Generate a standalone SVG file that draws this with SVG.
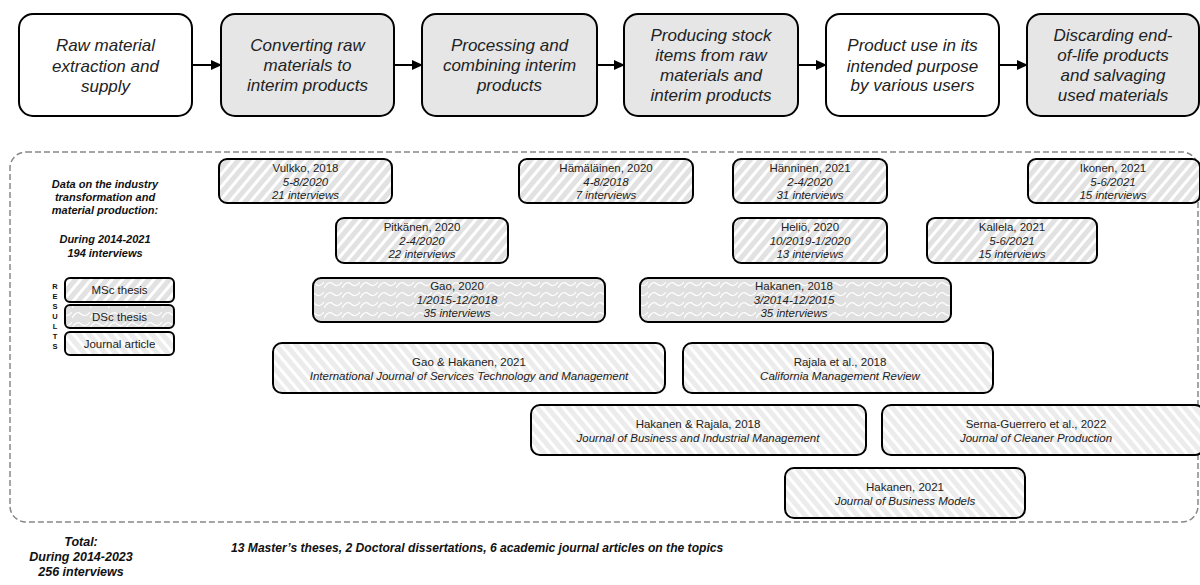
<svg xmlns="http://www.w3.org/2000/svg" width="1200" height="585" viewBox="0 0 1200 585">
<style>
.stage{stroke:#000;stroke-width:2}
.st{font-family:"Liberation Sans",Arial,sans-serif;font-style:italic;font-size:17px;fill:#222;text-anchor:middle}
.db{stroke:#000;stroke-width:2}
.t{font-family:"Liberation Sans",Arial,sans-serif;font-size:11.5px;fill:#222;text-anchor:middle}
.i{font-style:italic}
.bi{font-family:"Liberation Sans",Arial,sans-serif;font-weight:bold;font-style:italic;fill:#111;text-anchor:middle}
.res{font-family:"Liberation Sans",Arial,sans-serif;font-weight:bold;font-size:7.5px;fill:#111;text-anchor:middle}
.conn{stroke:#000;stroke-width:2;fill:none}
</style>
<defs>
<marker id="ah" markerUnits="userSpaceOnUse" markerWidth="11" markerHeight="10" refX="10" refY="5" orient="auto">
<path d="M0,0 L11,5 L0,10 z" fill="#000"/>
</marker>
<pattern id="msc" patternUnits="userSpaceOnUse" width="8" height="8" patternTransform="rotate(40)">
<rect width="8" height="8" fill="#e2e2e2"/>
<rect width="3" height="8" fill="#ffffff"/>
</pattern>
<pattern id="jrn" patternUnits="userSpaceOnUse" width="8" height="8" patternTransform="rotate(-40)">
<rect width="8" height="8" fill="#ececec"/>
<rect width="3" height="8" fill="#ffffff"/>
</pattern>
<pattern id="dsc" patternUnits="userSpaceOnUse" width="18" height="10">
<rect width="18" height="10" fill="#e0e0e0"/>
<path d="M0,8 Q4.5,0 9,4 T18,2 M0,-2 Q4.5,-10 9,-6 T18,-8 M0,18 Q4.5,10 9,14 T18,12" stroke="#fff" stroke-width="1.2" fill="none"/>
</pattern>
</defs>

<g id="stage1"><rect class="stage" x="19" y="14" width="173" height="102" rx="14" fill="#fff"/>
<text class="st" x="105.5" y="51">Raw material</text><text class="st" x="105.5" y="72">extraction and</text><text class="st" x="105.5" y="92">supply</text></g>
<g id="stage2"><rect class="stage" x="221" y="14" width="173" height="102" rx="14" fill="#e6e6e6"/>
<text class="st" x="307.5" y="51">Converting raw</text><text class="st" x="307.5" y="71">materials to</text><text class="st" x="307.5" y="91">interim products</text></g>
<g id="stage3"><rect class="stage" x="422" y="14" width="175" height="102" rx="14" fill="#e6e6e6"/>
<text class="st" x="509.5" y="51">Processing and</text><text class="st" x="509.5" y="71">combining interim</text><text class="st" x="509.5" y="91">products</text></g>
<g id="stage4"><rect class="stage" x="624" y="14" width="174" height="102" rx="14" fill="#e6e6e6"/>
<text class="st" x="711" y="41">Producing stock</text><text class="st" x="711" y="61">items from raw</text><text class="st" x="711" y="81">materials and</text><text class="st" x="711" y="101">interim products</text></g>
<g id="stage5"><rect class="stage" x="826" y="14" width="173" height="102" rx="14" fill="#fff"/>
<text class="st" x="912.5" y="51">Product use in its</text><text class="st" x="912.5" y="72">intended purpose</text><text class="st" x="912.5" y="91">by various users</text></g>
<g id="stage6"><rect class="stage" x="1027" y="14" width="172" height="102" rx="14" fill="#e6e6e6"/>
<text class="st" x="1113" y="41">Discarding end-</text><text class="st" x="1113" y="61">of-life products</text><text class="st" x="1113" y="81">and salvaging</text><text class="st" x="1113" y="101">used materials</text></g>

<g id="connectors">
<line class="conn" x1="192" y1="65" x2="221" y2="65" marker-end="url(#ah)"/>
<line class="conn" x1="394" y1="65" x2="422" y2="65" marker-end="url(#ah)"/>
<line class="conn" x1="597" y1="65" x2="624" y2="65" marker-end="url(#ah)"/>
<line class="conn" x1="798" y1="65" x2="826" y2="65" marker-end="url(#ah)"/>
<line class="conn" x1="999" y1="65" x2="1027" y2="65" marker-end="url(#ah)"/>
</g>

<g id="frame"><rect x="10" y="152" width="1188" height="370" rx="16" fill="none" stroke="#888" stroke-width="1.5" stroke-dasharray="6 3"/></g>

<g id="left-info">
<text class="bi" font-size="11" x="105" y="188">Data on the industry</text>
<text class="bi" font-size="11" x="105" y="201">transformation and</text>
<text class="bi" font-size="11" x="105" y="214">material production:</text>
<text class="bi" font-size="11" x="105" y="243">During 2014-2021</text>
<text class="bi" font-size="11" x="105" y="257">194 interviews</text>
</g>

<g id="legend">
<text class="res" x="55" y="289">R</text><text class="res" x="55" y="299">E</text><text class="res" x="55" y="309">S</text><text class="res" x="55" y="319">U</text><text class="res" x="55" y="329">L</text><text class="res" x="55" y="339">T</text><text class="res" x="55" y="349">S</text>
<g id="leg-msc"><rect class="db" x="65" y="278" width="109" height="24" rx="5" fill="url(#msc)"/><text class="t" x="119.5" y="294">MSc thesis</text></g>
<g id="leg-dsc"><rect class="db" x="65" y="305" width="109" height="23" rx="5" fill="url(#dsc)"/><text class="t" x="119.5" y="321">DSc thesis</text></g>
<g id="leg-jrn"><rect class="db" x="65" y="332" width="109" height="23" rx="5" fill="url(#jrn)"/><text class="t" x="119.5" y="348">Journal article</text></g>
</g>

<g id="vulkko"><rect class="db" x="219" y="159" width="173" height="44" rx="8" fill="url(#msc)"/>
<text class="t" x="305.5" y="172">Vulkko, 2018</text><text class="t i" x="305.5" y="186">5-8/2020</text><text class="t i" x="305.5" y="199">21 interviews</text></g>
<g id="hamalainen"><rect class="db" x="519" y="159" width="174" height="44" rx="8" fill="url(#msc)"/>
<text class="t" x="606" y="172">Hämäläinen, 2020</text><text class="t i" x="606" y="186">4-8/2018</text><text class="t i" x="606" y="199">7 interviews</text></g>
<g id="hanninen"><rect class="db" x="733" y="159" width="154" height="44" rx="8" fill="url(#msc)"/>
<text class="t" x="810" y="172">Hänninen, 2021</text><text class="t i" x="810" y="186">2-4/2020</text><text class="t i" x="810" y="199">31 interviews</text></g>
<g id="ikonen"><rect class="db" x="1028" y="159" width="172" height="44" rx="8" fill="url(#msc)"/>
<text class="t" x="1113" y="172">Ikonen, 2021</text><text class="t i" x="1113" y="186">5-6/2021</text><text class="t i" x="1113" y="199">15 interviews</text></g>
<g id="pitkanen"><rect class="db" x="336" y="218" width="172" height="45" rx="8" fill="url(#msc)"/>
<text class="t" x="422" y="231">Pitkänen, 2020</text><text class="t i" x="422" y="245">2-4/2020</text><text class="t i" x="422" y="258">22 interviews</text></g>
<g id="helio"><rect class="db" x="733" y="218" width="154" height="45" rx="8" fill="url(#msc)"/>
<text class="t" x="810" y="231">Heliö, 2020</text><text class="t i" x="810" y="245">10/2019-1/2020</text><text class="t i" x="810" y="258">13 interviews</text></g>
<g id="kallela"><rect class="db" x="927" y="218" width="170" height="45" rx="8" fill="url(#msc)"/>
<text class="t" x="1012" y="231">Kallela, 2021</text><text class="t i" x="1012" y="245">5-6/2021</text><text class="t i" x="1012" y="258">15 interviews</text></g>
<g id="gao2020"><rect class="db" x="313" y="278" width="292" height="44" rx="8" fill="url(#dsc)"/>
<text class="t" x="457" y="290">Gao, 2020</text><text class="t i" x="457" y="304">1/2015-12/2018</text><text class="t i" x="457" y="317">35 interviews</text></g>
<g id="hakanen2018"><rect class="db" x="640" y="278" width="311" height="44" rx="8" fill="url(#dsc)"/>
<text class="t" x="794" y="290">Hakanen, 2018</text><text class="t i" x="794" y="304">3/2014-12/2015</text><text class="t i" x="794" y="317">35 interviews</text></g>
<g id="gaohakanen"><rect class="db" x="273" y="343" width="392" height="50" rx="9" fill="url(#jrn)"/>
<text class="t" x="469" y="366">Gao &amp; Hakanen, 2021</text><text class="t i" x="469" y="380">International Journal of Services Technology and Management</text></g>
<g id="rajala"><rect class="db" x="683" y="343" width="310" height="50" rx="9" fill="url(#jrn)"/>
<text class="t" x="840" y="366">Rajala et al., 2018</text><text class="t i" x="840" y="380">California Management Review</text></g>
<g id="hakanenrajala"><rect class="db" x="531" y="405" width="335" height="50" rx="9" fill="url(#jrn)"/>
<text class="t" x="698" y="428">Hakanen &amp; Rajala, 2018</text><text class="t i" x="698" y="442">Journal of Business and Industrial Management</text></g>
<g id="serna"><rect class="db" x="882" y="405" width="322" height="50" rx="9" fill="url(#jrn)"/>
<text class="t" x="1036" y="428">Serna-Guerrero et al., 2022</text><text class="t i" x="1036" y="442">Journal of Cleaner Production</text></g>
<g id="hakanen2021"><rect class="db" x="785" y="468" width="240" height="50" rx="9" fill="url(#jrn)"/>
<text class="t" x="905" y="491">Hakanen, 2021</text><text class="t i" x="905" y="505">Journal of Business Models</text></g>

<g id="totals">
<text class="bi" font-size="12.5" x="81" y="546">Total:</text>
<text class="bi" font-size="12.5" x="81" y="561">During 2014-2023</text>
<text class="bi" font-size="12.5" x="81" y="576">256 interviews</text>
<text class="bi" font-size="12.1" x="231" y="552" style="text-anchor:start">13 Master’s theses, 2 Doctoral dissertations, 6 academic journal articles on the topics</text>
</g>
</svg>
